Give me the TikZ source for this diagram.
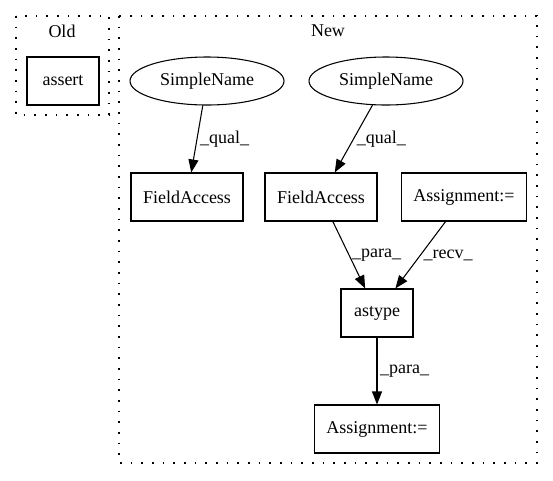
\documentclass[tikz,border=0pt]{standalone}
\usepackage{fontspec}
\setmainfont{Liberation Serif}
\usetikzlibrary{arrows.meta,shapes.geometric}

\begin{document}
\begin{tikzpicture}[x=0.75pt, y=-0.75pt, node distance=87pt,
  every node/.style={font=\fontsize{13.5pt}{16pt}\selectfont},
  box/.style={shape=rectangle, draw, line width=0.8pt, minimum width=54pt, minimum height=36pt, inner xsep=9pt},
  oval/.style={shape=ellipse, draw, line width=0.8pt, minimum width=115.5pt, minimum height=36pt},
  cluster/.style={draw, line width=0.9pt, dash pattern=on 1.2pt off 6.8pt},
  flow/.style={-{Triangle[length=9.75pt, width=7.5pt]}, line width=0.8pt},
  lab/.style={midway, right, inner sep=2pt}]
\useasboundingbox (0,0) rectangle (553,480);
\draw [cluster] (16,16) rectangle (109,115);
\draw [cluster] (119,16) rectangle (537,463);
\node (Old) at (62,31) {Old};
\node (New) at (328,31) {New};

\node [box] (N0) at (63,81) {assert};
\node [oval] (N1) at (207,81) {SimpleName};
\node [oval] (N2) at (386,81) {SimpleName};
\node [box] (N3) at (187,197) {FieldAccess};
\node [box] (N4) at (321,197) {FieldAccess};
\node [box] (N5) at (464,197) {Assignment:=};
\node [box] (N6) at (377,313) {astype};
\node [box, below of=N6] (N7) {Assignment:=};

\draw [flow] (N1) -- node [lab] {\_qual\_} (N3);
\draw [flow] (N2) -- node [lab] {\_qual\_} (N4);
\draw [flow] (N4) -- node [lab] {\_para\_} (N6);
\draw [flow] (N5) -- node [lab] {\_recv\_} (N6);
\draw [flow] (N6) -- node [lab] {\_para\_} (N7);
\end{tikzpicture}
\end{document}
